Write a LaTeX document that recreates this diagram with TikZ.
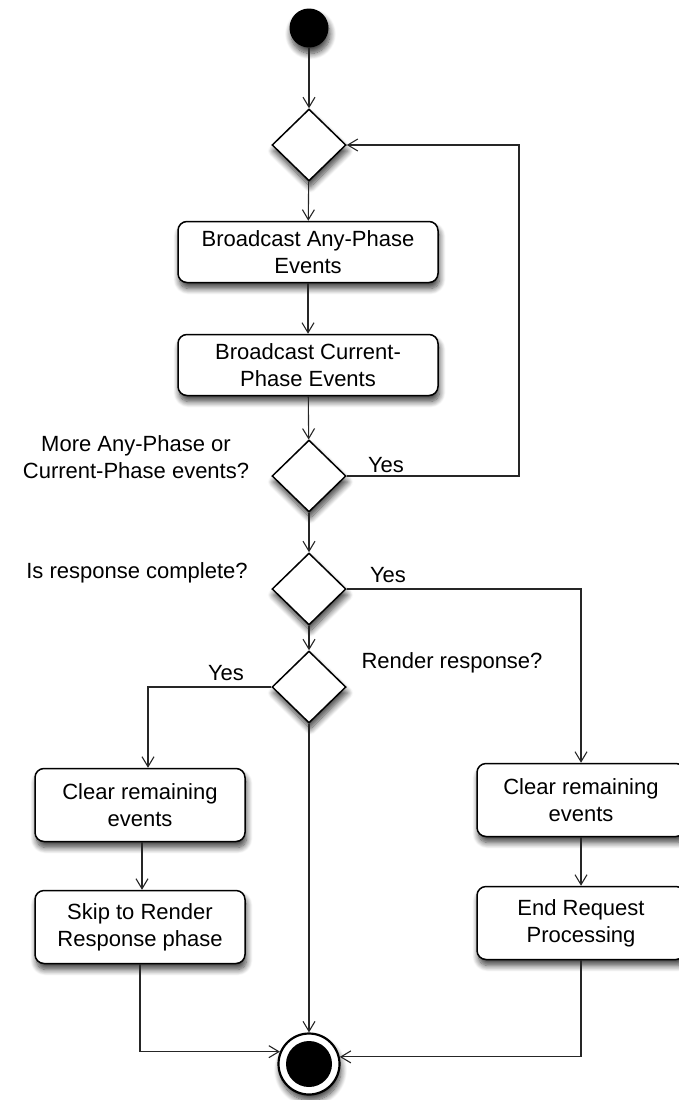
\documentclass[tikz,border=0pt]{standalone}
\usepackage{fontspec}
\setmainfont{Liberation Sans}
\usetikzlibrary{shapes.geometric,arrows.meta,shadows.blur}
\begin{document}
\begin{tikzpicture}[x=1pt,y=-1pt,
  font=\fontsize{22}{27}\selectfont,
  soft/.style={blur shadow={shadow xshift=1.5pt,shadow yshift=-6pt,shadow blur steps=10,shadow blur radius=6pt,shadow opacity=75}},
  act/.style={draw, line width=1.5pt, rounded corners=9pt, fill=white, align=center,
    minimum width=210pt, minimum height=73pt, inner sep=2pt, soft},
  dec/.style={draw, line width=1.5pt, diamond, fill=white, minimum width=74pt,
    minimum height=72pt, inner sep=0pt, soft},
  flow/.style={line width=1.1pt, draw=black!85, -{Straight Barb[length=10pt,width=12pt,line width=1.1pt]}}
]
\useasboundingbox (0,0) rectangle (679,1100);

% initial and final states
\node[circle, fill=black, minimum size=39pt, inner sep=0pt, soft] (start) at (309,28) {};
\node[circle, draw, line width=2.2pt, fill=white, minimum size=61pt, inner sep=0pt, soft] (end) at (309,1064) {};
\node[circle, fill=black, minimum size=46pt, inner sep=0pt] (endcore) at (end) {};

% decisions
\node[dec] (d1) at (309,145) {};
\node[dec] (d2) at (309,476) {};
\node[dec] (d3) at (309,589) {};
\node[dec] (d4) at (309,687) {};

% actions
\node[act, minimum width=260pt, minimum height=61pt] (b1) at (308,252) {Broadcast Any-Phase\\Events};
\node[act, minimum width=260pt, minimum height=61pt] (b2) at (308,365) {Broadcast Current-\\Phase Events};
\node[act] (l1) at (140,805) {Clear remaining\\events};
\node[act] (l2) at (140,927) {Skip to Render\\Response phase};
\node[act, minimum width=208pt] (r1) at (581,800) {Clear remaining\\events};
\node[act, minimum width=208pt] (r2) at (581,923) {End Request\\Processing};

% guard and question labels
\node[align=center] (q2) at (136,457) {More Any-Phase or\\Current-Phase events?};
\node (q3) at (137,573) {Is response complete?};
\node (q4) at (452,663) {Render response?};
\node (y2) at (386,465) {Yes};
\node (y3) at (388,575) {Yes};
\node (y4) at (226,673) {Yes};

% helper points for bends
\coordinate (loop) at (519,145);
\coordinate (l1in) at ([xshift=8pt]l1.north);

% flows
\draw[flow] (start) -- (d1);
\draw[flow] (d1) -- (b1);
\draw[flow] (b1) -- (b2);
\draw[flow] (b2) -- (d2);
\draw[flow] (d2.east) -| (loop) -- (d1.east);
\draw[flow] (d2) -- (d3);
\draw[flow] (d3) -- (d4);
\draw[flow] (d3.east) -| (r1.north);
\draw[flow] (d4.west) -| (l1in);
\draw[flow] ([xshift=2pt]l1.south) -- ([xshift=2pt]l2.north);
\draw[flow] (r1) -- (r2);
\draw[flow] (d4) -- (end);
\draw[flow] (l2.south) |- (end.157);
\draw[flow] (r2.south) |- (end.13);
\end{tikzpicture}
\end{document}
